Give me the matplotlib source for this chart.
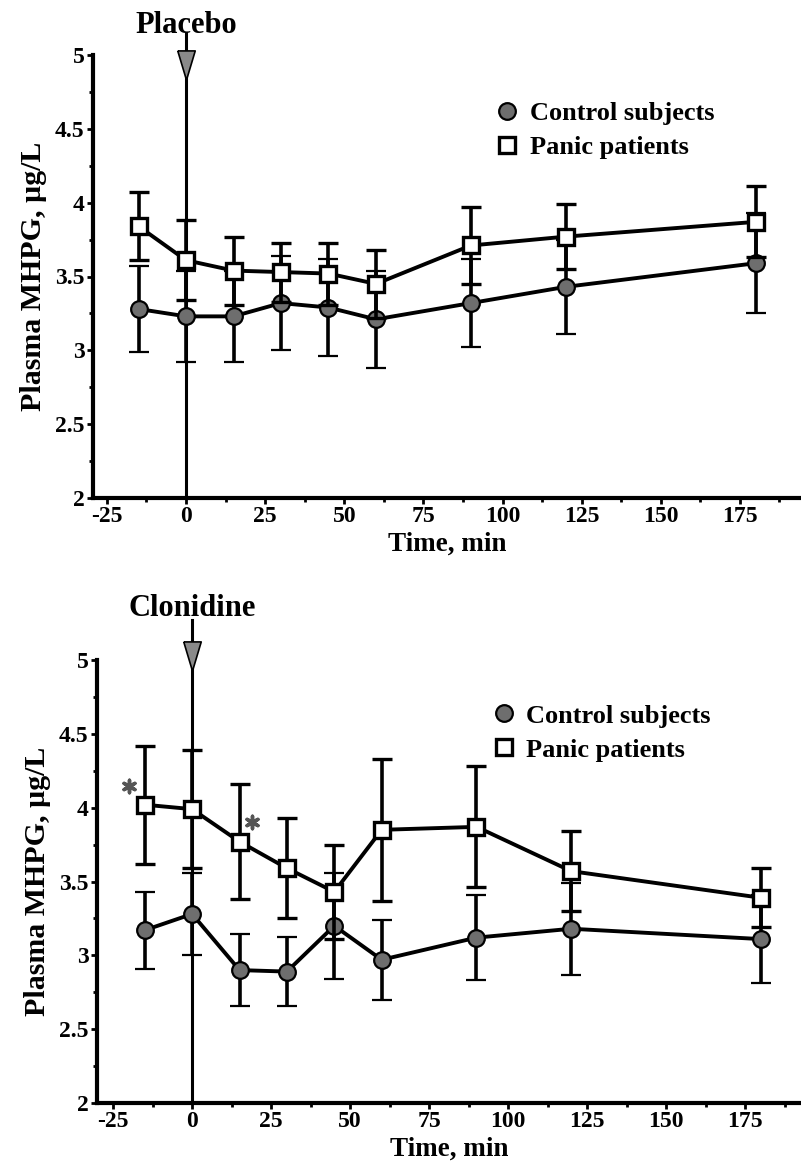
import numpy as np
import matplotlib
matplotlib.use('Agg')
import matplotlib.pyplot as plt
from matplotlib.lines import Line2D
from matplotlib.ticker import MultipleLocator

plt.rcParams['font.family'] = ['Liberation Serif', 'DejaVu Serif']
plt.rcParams['font.weight'] = 'bold'
plt.rcParams['axes.labelweight'] = 'bold'
plt.rcParams['axes.unicode_minus'] = False

# sampling times (min)
times = [-15, 0, 15, 30, 45, 60, 90, 120, 180]
x_ticks = [-25, 0, 25, 50, 75, 100, 125, 150, 175]
y_ticks = [2, 2.5, 3, 3.5, 4, 4.5, 5]
y_tick_labels = ['2', '2.5', '3', '3.5', '4', '4.5', '5']

# placebo day
placebo_control = [3.28, 3.23, 3.23, 3.32, 3.29, 3.21, 3.32, 3.43, 3.59]
placebo_control_err = [0.29, 0.31, 0.31, 0.32, 0.33, 0.33, 0.30, 0.32, 0.34]
placebo_panic = [3.84, 3.61, 3.54, 3.53, 3.52, 3.45, 3.71, 3.77, 3.87]
placebo_panic_err = [0.23, 0.27, 0.23, 0.20, 0.21, 0.23, 0.26, 0.22, 0.24]

# clonidine day
clon_control = [3.17, 3.28, 2.90, 2.89, 3.20, 2.97, 3.12, 3.18, 3.11]
clon_control_err = [0.26, 0.28, 0.245, 0.235, 0.36, 0.27, 0.29, 0.31, 0.30]
clon_panic = [4.02, 3.99, 3.77, 3.59, 3.43, 3.85, 3.87, 3.57, 3.39]
clon_panic_err = [0.40, 0.40, 0.39, 0.34, 0.32, 0.48, 0.41, 0.27, 0.20]

# significance stars (time, value)
star_x = [-20, 19]
star_y = [4.15, 3.90]

fig = plt.figure(figsize=(8.01, 11.71), dpi=100)
ax1 = fig.add_axes([93 / 801, 1 - 498 / 1171, 708 / 801, 443 / 1171])
ax2 = fig.add_axes([97 / 801, 1 - 1103 / 1171, 704 / 801, 443 / 1171])

tri = [(-0.6, 1), (0.6, 1), (0, -1), (-0.6, 1)]


def draw_panel(ax, ctrl, ctrl_err, panic, panic_err, xlim, title, title_y, line_top,
               tri_y, leg_x, leg_y):
    ax.errorbar(times, ctrl, yerr=ctrl_err, color='black', lw=2.8, elinewidth=2.6,
                capsize=7, capthick=2.8, marker='o', ms=12, mfc='#6e6e6e',
                mec='black', mew=1.6, zorder=3)
    ax.errorbar(times, panic, yerr=panic_err, color='black', lw=2.8, elinewidth=2.6,
                capsize=7, capthick=2.8, marker='s', ms=11, mfc='white',
                mec='black', mew=2.4, zorder=4)
    ax.set_xlim(*xlim)
    ax.set_ylim(2, 5)
    ax.set_xticks(x_ticks)
    ax.xaxis.set_minor_locator(MultipleLocator(12.5))
    ax.set_yticks(y_ticks)
    ax.set_yticklabels(y_tick_labels)
    ax.yaxis.set_minor_locator(MultipleLocator(0.25))
    ax.tick_params(axis='both', which='major', direction='out', length=4, width=2,
                   labelsize=17, pad=2)
    ax.tick_params(axis='both', which='minor', direction='out', length=3, width=2)
    for s in ['top', 'right']:
        ax.spines[s].set_visible(False)
    for s in ['left', 'bottom']:
        ax.spines[s].set_linewidth(3)
    ax.set_xlabel('Time, min', fontsize=19.5, labelpad=3)
    ax.set_ylabel('Plasma MHPG, µg/L', fontsize=21.5, labelpad=6)
    # drug administration arrow
    ax.plot([0, 0], [2, line_top], color='black', lw=2.2, clip_on=False, zorder=2)
    ax.plot([0], [tri_y], marker=tri, ms=21, mfc='#8a8a8a', mec='black', mew=1.2,
            clip_on=False, zorder=5)
    ax.text(0, title_y, title, ha='center', va='center', fontsize=22, clip_on=False)
    handles = [Line2D([], [], ls='none', marker='o', ms=12, mfc='#6e6e6e', mec='black', mew=1.6),
               Line2D([], [], ls='none', marker='s', ms=11, mfc='white', mec='black', mew=2.4)]
    ax.legend(handles, ['Control subjects', 'Panic patients'], loc='upper left',
              bbox_to_anchor=(leg_x, leg_y), frameon=False, fontsize=19,
              handletextpad=0.35, labelspacing=0.4, borderpad=0, handlelength=1.0)


draw_panel(ax1, placebo_control, placebo_control_err, placebo_panic, placebo_panic_err,
           (-29.4, 194.3), 'Placebo', 5.20, 5.15, 4.93, 0.548, 0.925)
draw_panel(ax2, clon_control, clon_control_err, clon_panic, clon_panic_err,
           (-30.1, 192.7), 'Clonidine', 5.35, 5.27, 5.03, 0.54, 0.93)

ax2.scatter(star_x, star_y, marker=(6, 2, 0), s=80, color='#555555', lw=2.5, zorder=6)

fig.savefig('out.png', dpi=100)
